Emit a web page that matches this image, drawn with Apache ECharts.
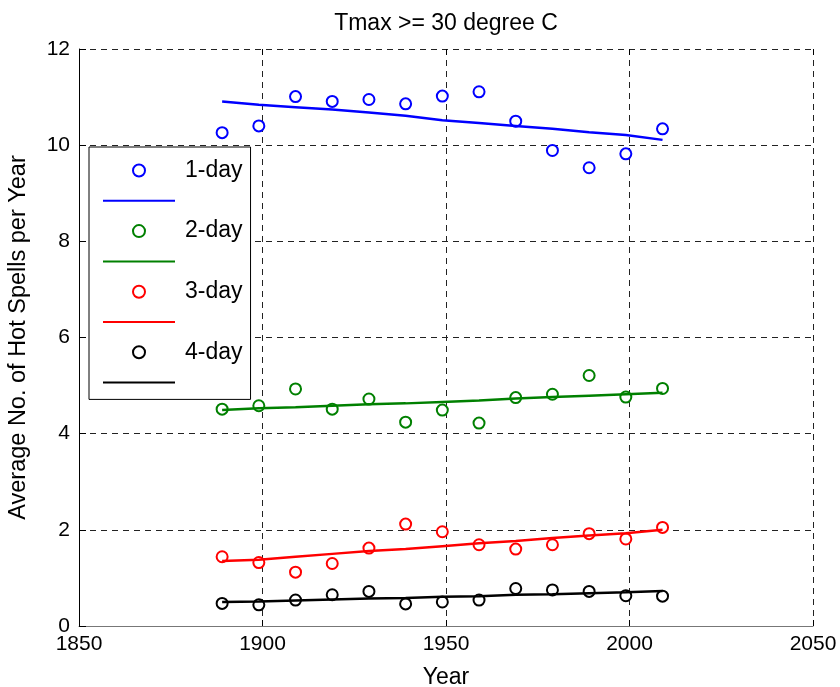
<!DOCTYPE html>
<html>
<head>
<meta charset="utf-8">
<script src="https://cdn.jsdelivr.net/npm/echarts@6/dist/echarts.min.js"></script>
<style>html,body{margin:0;padding:0;background:#fff}#c{width:840px;height:687px}</style>
</head>
<body>
<div id="c"></div>
<script>
var years = [1889, 1899, 1909, 1919, 1929, 1939, 1949, 1959, 1969, 1979, 1989, 1999, 2009];
var day1 = [10.26, 10.40, 11.01, 10.91, 10.95, 10.86, 11.02, 11.11, 10.50, 9.89, 9.53, 9.82, 10.34];
var day1Fit = [10.91, 10.84, 10.79, 10.74, 10.68, 10.61, 10.52, 10.46, 10.40, 10.34, 10.27, 10.21, 10.11];
var day2 = [4.51, 4.58, 4.93, 4.51, 4.72, 4.24, 4.49, 4.22, 4.75, 4.82, 5.21, 4.76, 4.94];
var day2Fit = [4.49, 4.53, 4.55, 4.58, 4.61, 4.63, 4.66, 4.69, 4.73, 4.76, 4.79, 4.82, 4.85];
var day3 = [1.44, 1.32, 1.12, 1.30, 1.62, 2.12, 1.96, 1.69, 1.60, 1.69, 1.92, 1.81, 2.05];
var day3Fit = [1.35, 1.38, 1.44, 1.50, 1.56, 1.60, 1.66, 1.72, 1.77, 1.83, 1.88, 1.93, 2.00];
var day4 = [0.47, 0.44, 0.54, 0.65, 0.72, 0.46, 0.50, 0.54, 0.78, 0.75, 0.72, 0.63, 0.62];
var day4Fit = [0.50, 0.51, 0.53, 0.55, 0.57, 0.58, 0.61, 0.62, 0.65, 0.66, 0.68, 0.70, 0.73];
var seriesNames = ['1-day', '2-day', '3-day', '4-day'];
var xTicks = [1850, 1900, 1950, 2000, 2050];
var yTicks = [0, 2, 4, 6, 8, 10, 12];

var FONT = '"Liberation Sans", Arial, Helvetica, sans-serif';
var colors = ['#0000ff', '#008000', '#ff0000', '#000000'];
var obs = [day1, day2, day3, day4];
var fits = [day1Fit, day2Fit, day3Fit, day4Fit];
function pairs(v) { return years.map(function (y, i) { return [y, v[i]]; }); }

var series = [];
var legendData = [];
for (var k = 0; k < 4; k++) {
  series.push({
    name: seriesNames[k], type: 'scatter', data: pairs(obs[k]),
    symbol: 'emptyCircle', symbolSize: 11,
    itemStyle: { color: colors[k], borderColor: colors[k], borderWidth: 2, opacity: 1 },
    z: 3
  });
  series.push({
    name: seriesNames[k] + ' fit', type: 'line', data: pairs(fits[k]),
    symbol: 'none', lineStyle: { color: colors[k], width: 2.5 },
    itemStyle: { color: colors[k] }, z: 4
  });
  legendData.push({ name: seriesNames[k] });
  legendData.push({ name: seriesNames[k] + ' fit',
    itemStyle: { color: 'rgba(0,0,0,0)', borderColor: 'rgba(0,0,0,0)', borderWidth: 0, opacity: 0 } });
}

var dashed = { type: [6, 5], color: '#222', width: 1 };
var chart = echarts.init(document.getElementById('c'), null, { renderer: 'canvas' });
chart.setOption({
  animation: false,
  backgroundColor: '#fff',
  title: {
    text: 'Tmax >= 30 degree C', left: 446, top: 12, textAlign: 'center', padding: 0,
    textStyle: { fontFamily: FONT, fontSize: 23, fontWeight: 'normal', color: '#000' }
  },
  grid: { left: 79, right: 27, top: 49, bottom: 61, containLabel: false, outerBoundsMode: 'none' },
  legend: {
    data: legendData, orient: 'vertical', left: 89, top: 147,
    padding: [12, 8, 12, 13], itemWidth: 72, itemHeight: 12, itemGap: 14,
    backgroundColor: '#fff', borderColor: '#000', borderWidth: 1, borderRadius: 0,
    selectedMode: false,
    formatter: function (n) { return n.indexOf('fit') >= 0 ? '' : n; },
    textStyle: { fontFamily: FONT, fontSize: 23, color: '#000', lineHeight: 12, padding: [0, 0, 0, 5] }
  },
  xAxis: [{
    type: 'value', min: 1850, max: 2050, interval: 50, position: 'bottom',
    name: 'Year', nameLocation: 'middle', nameGap: 40,
    nameTextStyle: { fontFamily: FONT, fontSize: 23, color: '#000' },
    axisLine: { show: true, lineStyle: { color: '#777', width: 1 } },
    axisTick: { show: true, inside: true, length: 6, lineStyle: { color: '#000' } },
    axisLabel: { fontFamily: FONT, fontSize: 21, color: '#000', margin: 8,
      formatter: function (v) { return String(v); } },
    splitLine: { show: true, lineStyle: dashed }
  }, {
    type: 'value', min: 1850, max: 2050, interval: 50, position: 'top',
    axisLine: { show: false }, axisLabel: { show: false }, splitLine: { show: false },
    axisTick: { show: true, inside: true, length: 6, lineStyle: { color: '#000' } }
  }],
  yAxis: [{
    type: 'value', min: 0, max: 12, interval: 2,
    name: 'Average No. of Hot Spells per Year', nameLocation: 'middle', nameGap: 48,
    nameTextStyle: { fontFamily: FONT, fontSize: 23.5, color: '#000' },
    axisLine: { show: true, lineStyle: { color: '#000', width: 1 } },
    axisTick: { show: true, inside: true, length: 7, lineStyle: { color: '#000' } },
    axisLabel: { fontFamily: FONT, fontSize: 21, color: '#000', margin: 9 },
    splitLine: { show: true, lineStyle: dashed }
  }],
  series: series
});
</script>
</body>
</html>
